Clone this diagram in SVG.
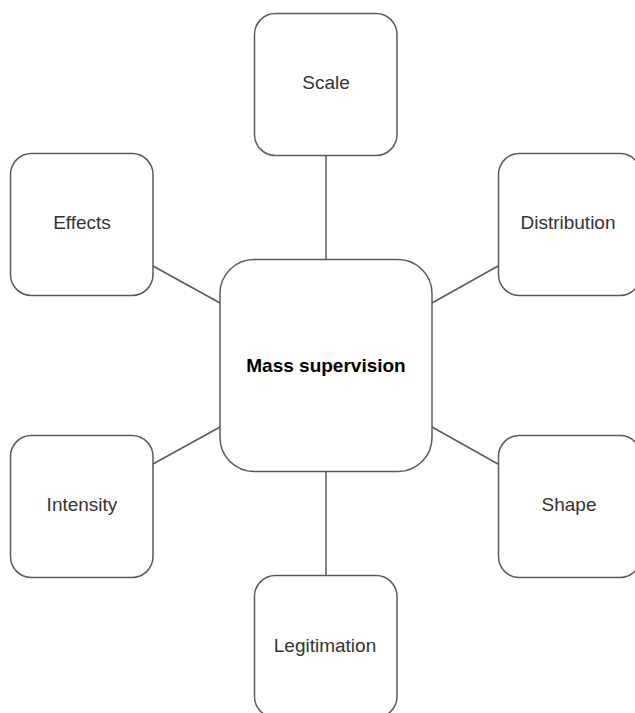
<svg xmlns="http://www.w3.org/2000/svg" width="635" height="713" viewBox="0 0 635 713">
<style>
.box{fill:#fff;stroke:#5a5a5a;stroke-width:1.5}
.lbl{font-family:"Liberation Sans",Arial,sans-serif;font-size:19px;fill:#333;text-anchor:middle}
.main{font-weight:bold;fill:#000}
.conn line{stroke:#5a5a5a;stroke-width:1.5}
</style>
<rect width="635" height="713" fill="#fff"/>
<g id="connectors" class="conn">
<line x1="326" y1="155" x2="326" y2="259"/>
<line x1="326" y1="471" x2="326" y2="576"/>
<line x1="153" y1="266" x2="220" y2="303"/>
<line x1="498" y1="266" x2="432" y2="303"/>
<line x1="153" y1="464" x2="220" y2="427"/>
<line x1="498" y1="464" x2="432" y2="427"/>
</g>
<g id="scale"><rect class="box" x="254.5" y="13.5" width="142.5" height="142" rx="21"/><text class="lbl" x="326" y="89">Scale</text></g>
<g id="effects"><rect class="box" x="10.5" y="153.5" width="142.5" height="142" rx="21"/><text class="lbl" x="82" y="229">Effects</text></g>
<g id="distribution"><rect class="box" x="498.5" y="153.5" width="142.5" height="142" rx="21"/><text class="lbl" x="568" y="229">Distribution</text></g>
<g id="mass-supervision"><rect class="box" x="220" y="259.5" width="212" height="212" rx="34"/><text class="lbl main" x="326" y="372">Mass supervision</text></g>
<g id="intensity"><rect class="box" x="10.5" y="435.5" width="142.5" height="142" rx="21"/><text class="lbl" x="82" y="511">Intensity</text></g>
<g id="shape"><rect class="box" x="498.5" y="435.5" width="142.5" height="142" rx="21"/><text class="lbl" x="569" y="511">Shape</text></g>
<g id="legitimation"><rect class="box" x="254.5" y="575.5" width="142.5" height="142" rx="21"/><text class="lbl" x="325" y="652">Legitimation</text></g>
</svg>
